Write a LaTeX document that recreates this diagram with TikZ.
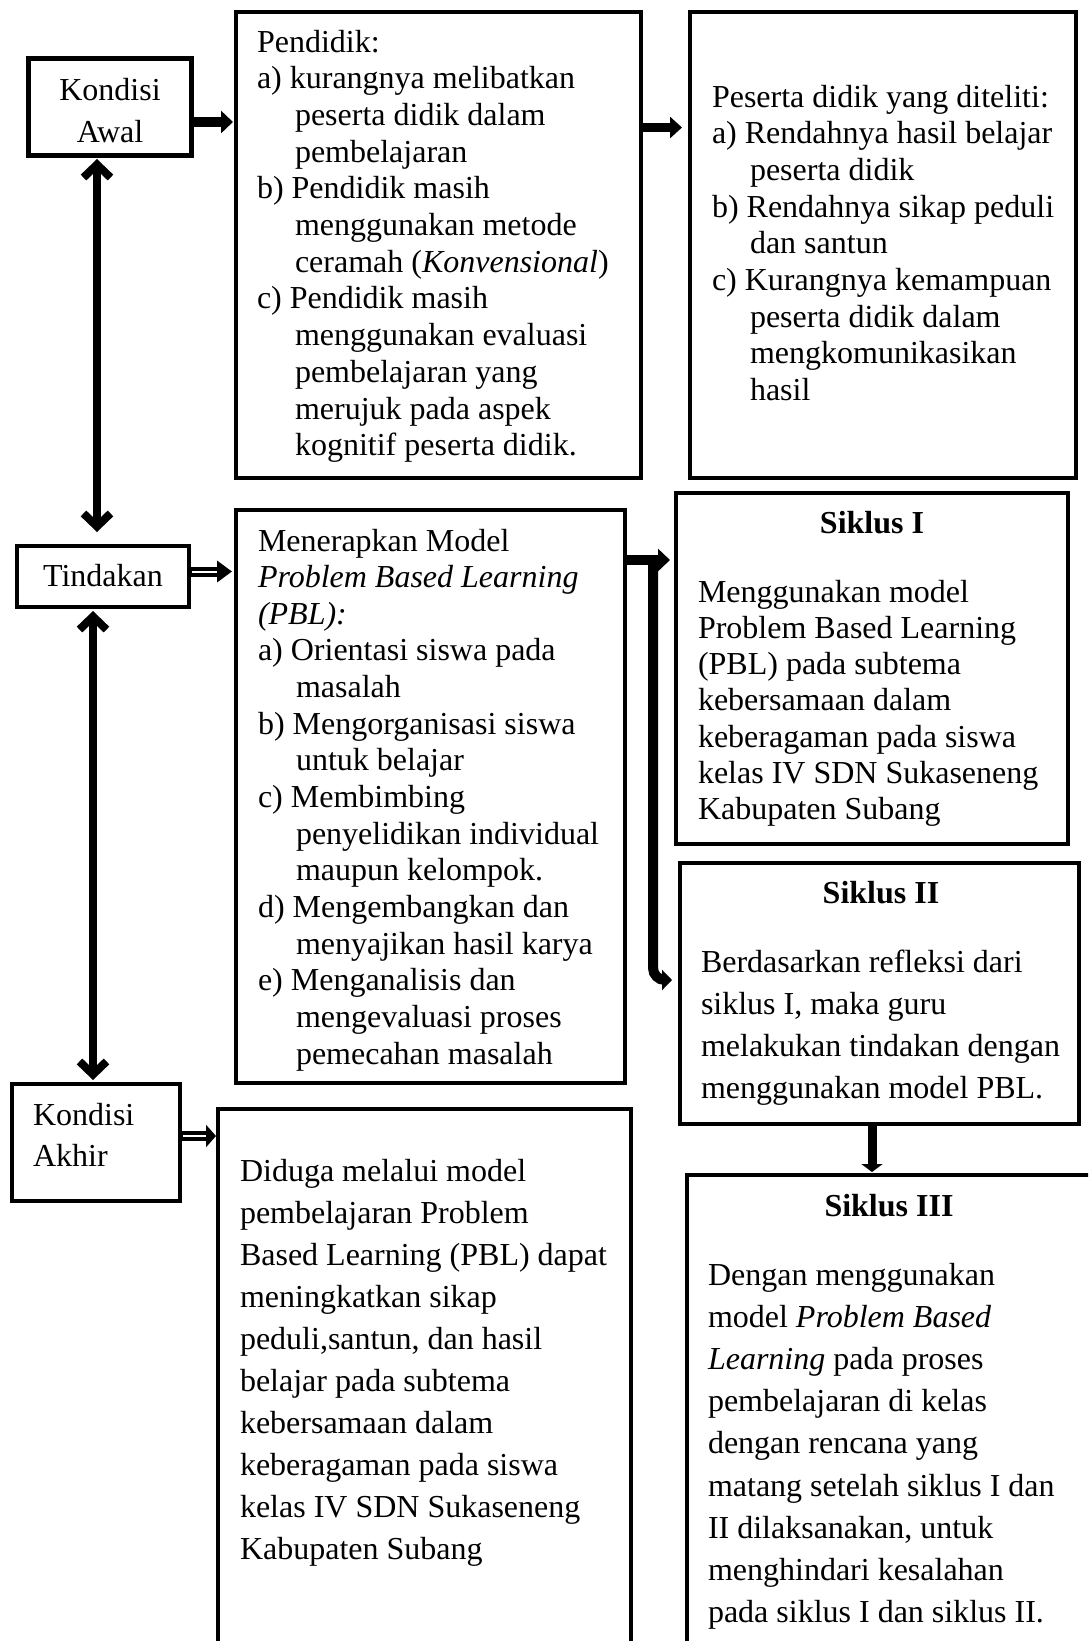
\documentclass[tikz,border=0pt]{standalone}
\usepackage{fontspec}
\setmainfont{Liberation Serif}
\usetikzlibrary{arrows.meta}
\newcommand{\txtblock}[2]{\parbox[t]{600pt}{\fontsize{32}{#1}\selectfont\raggedright #2}}
\newcommand{\ctrblock}[2]{\parbox[t]{200pt}{\fontsize{32}{#1}\selectfont\centering #2}}
\newcommand{\ind}{\hspace*{38pt}}
\tikzset{
  box/.style={draw, line width=4.5pt, rectangle, inner sep=0pt, outer sep=0pt},
  txt/.style={inner sep=0pt, outer sep=0pt, anchor=base west},
  ctxt/.style={inner sep=0pt, outer sep=0pt, anchor=base},
  ttl/.style={inner sep=0pt, outer sep=0pt, anchor=base, font=\fontsize{32}{36}\selectfont\bfseries},
  fat/.style={line width=10pt},
  vv/.style={line width=8pt, {Straight Barb[length=13pt,width=27pt]}-{Straight Barb[length=13pt,width=27pt]}},
  dblshaft/.style={line width=10pt},
  dblinner/.style={white, line width=2pt},
}
\begin{document}
\begin{tikzpicture}[x=1pt,y=-1pt]
\useasboundingbox (0,0) rectangle (1088,1641);
\fill[white] (0,0) rectangle (1088,1641);
\clip (0,0) rectangle (1088,1641);

% boxes
\node[box, minimum width=163pt, minimum height=97pt] (ka) at (110,107) {};
\node[box, minimum width=405pt, minimum height=466pt] (pend) at (438.5,245) {};
\node[box, minimum width=386pt, minimum height=466pt] (pes) at (883,245) {};
\node[box, minimum width=172pt, minimum height=61pt] (tin) at (103,576.5) {};
\node[box, minimum width=389pt, minimum height=573pt] (men) at (430.5,796.5) {};
\node[box, minimum width=392pt, minimum height=351pt] (s1) at (872,668.5) {};
\node[box, minimum width=399pt, minimum height=261pt] (s2) at (879.5,993.5) {};
\node[box, minimum width=168pt, minimum height=117pt] (kak) at (96,1142.5) {};
\node[box, minimum width=413pt, minimum height=591pt] (dug) at (424.5,1404.5) {};
\node[box, minimum width=433pt, minimum height=525pt] (s3) at (903.5,1437.5) {};

% texts
\node[ctxt] (kat) at (110,100) {\ctrblock{42}{Kondisi\\Awal}};
\node[ctxt] (tint) at (103,586) {\ctrblock{42}{Tindakan}};
\node[txt] (kakt) at (33,1125) {\txtblock{41}{Kondisi\\Akhir}};

\node[txt] (pendt) at (257,52) {\txtblock{36.7}{Pendidik:\\
a) kurangnya melibatkan\\
\ind peserta didik dalam\\
\ind pembelajaran\\
b) Pendidik masih\\
\ind menggunakan metode\\
\ind ceramah (\textit{Konvensional})\\
c) Pendidik masih\\
\ind menggunakan evaluasi\\
\ind pembelajaran yang\\
\ind merujuk pada aspek\\
\ind kognitif peserta didik.}};

\node[txt] (pest) at (712,107) {\txtblock{36.7}{Peserta didik yang diteliti:\\
a) Rendahnya hasil belajar\\
\ind peserta didik\\
b) Rendahnya sikap peduli\\
\ind dan santun\\
c) Kurangnya kemampuan\\
\ind peserta didik dalam\\
\ind mengkomunikasikan\\
\ind hasil}};

\node[txt] (ment) at (258,551) {\txtblock{36.65}{Menerapkan Model\\
\textit{Problem Based Learning}\\
\textit{(PBL):}\\
a) Orientasi siswa pada\\
\ind masalah\\
b) Mengorganisasi siswa\\
\ind untuk belajar\\
c) Membimbing\\
\ind penyelidikan individual\\
\ind maupun kelompok.\\
d) Mengembangkan dan\\
\ind menyajikan hasil karya\\
e) Menganalisis dan\\
\ind mengevaluasi proses\\
\ind pemecahan masalah}};

\node[ttl] (s1h) at (872,533) {Siklus I};
\node[txt] (s1t) at (698,602) {\txtblock{36.3}{Menggunakan model\\
Problem Based Learning\\
(PBL) pada subtema\\
kebersamaan dalam\\
keberagaman pada siswa\\
kelas IV SDN Sukaseneng\\
Kabupaten Subang}};

\node[ttl] (s2h) at (881,903) {Siklus II};
\node[txt] (s2t) at (701,972) {\txtblock{42}{Berdasarkan refleksi dari\\
siklus I, maka guru\\
melakukan tindakan dengan\\
menggunakan model PBL.}};

\node[txt] (dugt) at (240,1181) {\txtblock{42.1}{Diduga melalui model\\
pembelajaran Problem\\
Based Learning (PBL) dapat\\
meningkatkan sikap\\
peduli,santun, dan hasil\\
belajar pada subtema\\
kebersamaan dalam\\
keberagaman pada siswa\\
kelas IV SDN Sukaseneng\\
Kabupaten Subang}};

\node[ttl] (s3h) at (889,1216) {Siklus III};
\node[txt] (s3t) at (708,1285) {\txtblock{42.2}{Dengan menggunakan\\
model \textit{Problem Based}\\
\textit{Learning} pada proses\\
pembelajaran di kelas\\
dengan rencana yang\\
matang setelah siklus I dan\\
II dilaksanakan, untuk\\
menghindari kesalahan\\
pada siklus I dan siklus II.}};

% connectors
\draw[fat, -{Triangle[length=12pt,width=22pt]}, shorten >=3pt]
  ([yshift=-15pt]ka.east) -- ([yshift=-15pt]ka.east -| pend.west);
\draw[line width=9pt, -{Triangle[length=12pt,width=21pt]}, shorten >=8pt]
  ([yshift=117.5pt]pend.east) -- ([yshift=117.5pt]pend.east -| pes.west);

\draw[vv, shorten <=3.5pt, shorten >=14pt]
  ([xshift=-13pt]ka.south) -- ([xshift=-13pt]ka.south |- tin.north);
\draw[vv, shorten <=4pt, shorten >=4pt]
  ([xshift=-10pt]tin.south) -- ([xshift=-10pt]tin.south |- kak.north);

% double-line arrows
\draw[dblshaft, -{Triangle[length=15pt,width=21pt]}, shorten >=4pt]
  ([yshift=5pt]tin.east) -- ([yshift=5pt]tin.east -| men.west);
\draw[dblinner, shorten <=2.5pt, shorten >=19pt]
  ([yshift=5pt]tin.east) -- ([yshift=5pt]tin.east -| men.west);
\draw[dblshaft, -{Triangle[length=10pt,width=22pt]}, shorten >=2pt]
  ([yshift=6.5pt]kak.east) -- ([yshift=6.5pt]kak.east -| dug.west);
\draw[dblinner, shorten <=2.5pt, shorten >=12pt]
  ([yshift=6.5pt]kak.east) -- ([yshift=6.5pt]kak.east -| dug.west);

% bracket to Siklus I and II
\coordinate (bj) at (653,555);
\draw[fat, -{Triangle[length=12pt,width=22pt]}, shorten >=6pt]
  ([yshift=236.5pt]men.east) -- ([yshift=236.5pt]men.east -| s1.west);
\draw[fat, rounded corners=12pt, -{Triangle[length=10pt,width=20pt]}, shorten >=8pt]
  (bj) |- ([yshift=13.5pt]s2.west);

% Siklus II to Siklus III
\draw[line width=9pt, -{Triangle[length=8pt,width=21pt]}, shorten >=3pt]
  ([xshift=-7.5pt]s2.south) -- ([xshift=-7.5pt]s2.south |- s3.north);
\end{tikzpicture}
\end{document}
